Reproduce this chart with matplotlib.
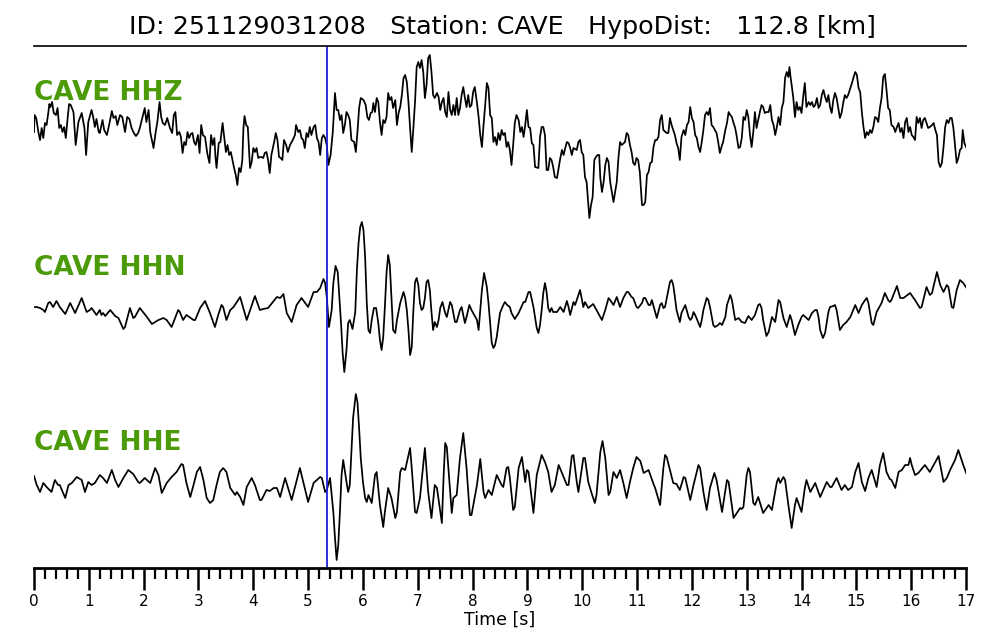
import numpy as np
import matplotlib
matplotlib.use("Agg")
import matplotlib.pyplot as plt
from matplotlib.ticker import MultipleLocator

event_id = "251129031208"
station = "CAVE"
hypo_dist = 112.8  # km
channels = ["HHZ", "HHN", "HHE"]
p_pick = 5.345  # s

# (time [s], amplitude)
hhz = [(0.00,-2),(0.01,15),(0.04,12),(0.08,-2),(0.11,-10),(0.14,2),(0.17,-8),(0.20,7),(0.23,5),(0.26,17),
       (0.28,26),(0.30,23),(0.33,28),(0.36,17),(0.40,15),(0.43,22),(0.46,2),(0.49,5),(0.52,-2),(0.55,3),
       (0.58,-8),(0.61,10),(0.64,26),(0.67,25),(0.72,18),(0.76,-15),(0.81,8),(0.87,17),(0.92,2),(0.95,-25),
       (0.99,8),(1.05,20),(1.08,13),(1.11,3),(1.14,11),(1.18,-2),(1.20,-3),(1.25,10),(1.28,0),(1.33,-5),
       (1.37,5),(1.42,19),(1.45,12),(1.49,14),(1.52,5),(1.57,15),(1.61,13),(1.66,-2),(1.70,13),(1.74,11),
       (1.78,2),(1.82,-3),(1.86,-6),(1.90,-3),(1.93,2),(1.98,13),(2.02,22),(2.05,8),(2.09,20),(2.12,-2),
       (2.15,-10),(2.18,-18),(2.22,-2),(2.25,8),(2.29,28),(2.32,13),(2.35,7),(2.39,5),(2.43,12),(2.48,2),
       (2.52,-3),(2.55,15),(2.58,18),(2.61,-5),(2.65,-2),(2.68,-7),(2.71,-23),(2.74,-12),(2.77,-15),(2.80,-2),
       (2.83,-8),(2.86,-4),(2.89,-3),(2.92,-12),(2.95,-15),(2.99,-5),(3.02,-23),(3.05,5),(3.08,-5),(3.12,-7),
       (3.16,-23),(3.20,-33),(3.23,-5),(3.26,-15),(3.29,-8),(3.31,-27),(3.33,-38),(3.37,-13),(3.40,-12),(3.44,7),
       (3.47,-8),(3.50,-22),(3.53,-15),(3.56,-25),(3.59,-22),(3.62,-30),(3.65,-38),(3.68,-45),(3.71,-55),(3.74,-38),
       (3.77,-42),(3.80,-30),(3.82,2),(3.84,14),(3.87,5),(3.90,3),(3.94,-38),(3.97,-32),(4.00,-18),(4.03,-22),
       (4.06,-18),(4.09,-28),(4.12,-27),(4.15,-27),(4.18,-28),(4.21,-23),(4.24,-22),(4.27,-30),(4.30,-43),(4.33,-25),
       (4.38,-12),(4.41,-3),(4.44,-10),(4.47,-27),
       (4.50,-28),(4.53,-30),(4.56,-10),(4.60,-15),(4.63,-22),(4.67,-15),(4.72,-10),(4.76,-5),(4.78,5),(4.82,-2),
       (4.85,0),(4.88,-8),(4.91,-10),(4.94,-18),(4.97,-3),(5.00,-7),(5.03,3),(5.06,-5),(5.10,3),(5.13,5),
       (5.16,-8),(5.19,-12),(5.22,-25),(5.25,-8),(5.28,-5),(5.31,-8),(5.34,-15),(5.37,-35),(5.41,-25),(5.45,-2),
       (5.49,37),(5.52,20),(5.55,20),(5.58,10),(5.61,15),(5.64,-3),(5.67,5),(5.70,18),(5.73,15),(5.76,10),
       (5.79,-10),(5.84,-12),(5.87,-22),(5.90,-2),(5.93,22),(5.96,32),(6.01,30),(6.05,25),(6.08,13),(6.11,10),
       (6.14,17),(6.17,18),(6.19,27),(6.22,18),(6.25,32),(6.28,28),(6.31,8),(6.34,-5),(6.37,10),(6.40,7),
       (6.43,13),(6.46,37),(6.49,30),(6.52,33),(6.55,22),(6.59,30),(6.62,5),(6.65,17),(6.68,23),(6.71,35),
       (6.74,52),(6.77,55),(6.80,48),(6.83,28),(6.86,2),(6.89,-22),(6.92,2),(6.95,28),(6.98,63),(7.01,68),
       (7.04,62),(7.07,70),(7.10,58),(7.13,32),(7.16,45),(7.19,72),(7.22,75),(7.25,58),(7.28,35),(7.31,32),
       (7.35,37),(7.38,33),(7.41,20),(7.44,28),(7.47,32),(7.50,18),(7.53,13),(7.56,38),(7.59,20),(7.62,15),
       (7.65,25),(7.68,15),(7.71,32),(7.74,15),(7.77,22),(7.80,35),(7.83,43),(7.86,32),(7.89,23),(7.92,35),
       (7.95,23),(7.98,25),(8.01,38),(8.04,43),(8.08,27),(8.11,13),(8.14,-5),(8.17,-17),(8.20,5),(8.23,25),
       (8.26,47),(8.29,42),(8.32,15),(8.35,12),(8.38,-12),(8.41,-7),(8.44,-15),(8.47,-3),(8.50,-10),(8.53,0),
       (8.56,-5),(8.59,-3),(8.62,-17),(8.65,-12),(8.68,-20),
       (8.71,-35),(8.74,-15),(8.77,7),(8.80,15),(8.84,10),(8.87,-2),(8.90,3),(8.93,-7),(8.96,5),(8.99,20),
       (9.02,3),(9.05,2),(9.08,-13),(9.11,-15),(9.14,-37),(9.20,-38),(9.23,-7),(9.26,3),(9.29,3),(9.32,-5),
       (9.35,-40),(9.38,-40),(9.41,-28),(9.44,-30),(9.47,-37),(9.50,-47),(9.54,-48),(9.57,-38),(9.60,-28),(9.63,-20),
       (9.66,-25),(9.69,-18),(9.72,-12),(9.75,-13),(9.78,-18),(9.81,-25),(9.84,-18),(9.90,-20),(9.93,-12),(9.96,-10),
       (9.99,-22),(10.02,-25),(10.05,-47),(10.08,-52),(10.11,-73),(10.13,-88),(10.16,-75),(10.19,-67),(10.22,-30),(10.25,-27),
       (10.28,-25),(10.31,-25),(10.33,-48),(10.36,-62),(10.39,-52),(10.42,-35),(10.45,-28),(10.48,-32),(10.51,-52),(10.54,-62),
       (10.57,-72),(10.60,-62),(10.63,-52),(10.66,-28),(10.69,-12),(10.72,-15),(10.78,-12),(10.81,-3),(10.84,-5),(10.87,-15),
       (10.90,-22),(10.93,-33),(10.96,-35),(10.99,-28),(11.02,-30),(11.05,-42),(11.09,-75),(11.12,-75),(11.15,-72),(11.18,-45),
       (11.21,-42),(11.24,-33),(11.27,-32),(11.30,-17),(11.33,-10),(11.36,-10),(11.39,-7),(11.42,10),(11.45,15),(11.48,0),
       (11.54,-3),(11.57,-3),(11.60,12),(11.63,5),(11.66,0),(11.69,-5),(11.72,-13),(11.75,-18),(11.78,-30),(11.81,-7),
       (11.85,0),(11.88,-5),(11.91,5),(11.94,8),(11.97,23),(12.00,12),(12.03,8),(12.06,-5),(12.09,-8),(12.12,-17),
       (12.15,-22),(12.18,-12),(12.21,0),(12.24,15),(12.27,18),(12.30,15),(12.33,22),(12.36,5),(12.39,3),(12.42,0),
       (12.45,-3),(12.48,-12),(12.51,-23),(12.55,-15),(12.57,-12),(12.61,0),(12.64,7),(12.67,18),(12.70,15),(12.73,13),
       (12.76,7),(12.79,2),(12.82,-7),(12.85,-18),(12.88,-17),
       (12.91,-8),(12.94,13),(12.97,10),(13.00,20),(13.03,13),(13.06,-5),(13.09,-17),(13.12,-2),(13.15,18),(13.18,2),
       (13.21,10),(13.24,18),(13.27,25),(13.30,23),(13.33,17),(13.36,18),(13.40,18),(13.43,25),(13.46,10),(13.49,5),
       (13.52,-5),(13.55,3),(13.58,13),(13.61,5),(13.64,22),(13.67,28),(13.70,52),(13.73,58),(13.76,53),(13.78,63),
       (13.80,53),(13.82,45),(13.85,32),(13.88,13),(13.91,28),(13.94,20),(13.97,23),(14.00,17),(14.03,33),(14.06,47),
       (14.09,23),(14.13,28),(14.16,25),(14.19,28),(14.22,23),(14.25,25),(14.28,32),(14.31,22),(14.34,25),(14.37,35),
       (14.40,40),(14.43,33),(14.46,28),(14.49,35),(14.52,23),(14.55,17),(14.58,30),(14.61,37),(14.64,32),(14.67,22),
       (14.70,12),(14.73,17),(14.76,27),(14.79,35),(14.82,32),(14.85,35),(14.89,42),(14.92,47),(14.95,53),(14.98,58),
       (15.01,55),(15.04,42),(15.07,38),(15.10,18),(15.13,3),(15.16,-8),(15.19,-2),(15.22,-5),(15.25,0),(15.28,-3),
       (15.31,3),(15.34,13),(15.37,12),(15.40,8),(15.43,22),(15.46,32),(15.49,53),(15.52,56),(15.55,40),(15.58,22),
       (15.61,20),(15.64,5),(15.68,3),(15.71,-2),(15.74,3),(15.77,7),(15.80,-2),(15.83,2),(15.86,-8),(15.89,8),
       (15.92,12),(15.95,-2),(15.98,3),(16.01,-5),(16.04,-7),(16.07,-10),(16.10,13),(16.13,7),(16.16,12),(16.19,2),
       (16.22,10),(16.25,12),(16.28,7),(16.31,2),(16.34,3),(16.38,5),(16.41,7),(16.44,0),(16.47,-5),(16.50,-32),
       (16.53,-37),(16.56,-33),(16.59,-17),(16.62,3),(16.65,10),(16.68,7),(16.71,12),(16.74,12),(16.77,2),(16.80,-15),
       (16.83,-33),(16.86,-28),(16.89,-20),(16.92,-18),(16.94,0),(16.97,-13),(17.01,-18)]

hhn = [(0.00,-2),(0.05,-2),(0.11,-3),(0.17,-5),(0.20,-7),(0.26,2),(0.29,3),(0.35,-2),(0.41,4),(0.47,-2),
       (0.57,-9),(0.66,2),(0.75,-8),(0.87,7),(0.96,-7),(1.02,-5),(1.05,-3),(1.14,-10),(1.20,-5),(1.23,-10),
       (1.26,-8),(1.30,-11),(1.39,-5),(1.48,-11),(1.54,-13),(1.63,-24),(1.66,-22),(1.75,-3),(1.81,-13),(1.84,-12),
       (1.93,-3),(2.06,-12),(2.15,-19),(2.24,-16),(2.27,-15),(2.36,-13),(2.42,-15),(2.51,-22),(2.63,-5),(2.66,-7),
       (2.72,-15),(2.78,-10),(2.91,-15),(2.94,-15),(3.03,-3),(3.12,4),(3.21,-8),(3.30,-22),(3.36,-10),(3.42,0),
       (3.45,-2),(3.51,-15),(3.58,-5),(3.64,-2),(3.76,8),(3.88,-15),(4.03,9),(4.12,-5),(4.18,-4),(4.27,-3),
       (4.43,8),
       (4.49,7),(4.55,11),(4.61,-8),(4.70,-17),(4.79,0),(4.88,7),(5.00,-2),(5.10,13),(5.16,13),(5.19,15),
       (5.22,17),(5.28,26),(5.31,22),(5.34,8),(5.38,-22),(5.43,-5),(5.46,22),(5.50,39),(5.54,33),(5.57,8),
       (5.60,-18),(5.63,-48),(5.66,-67),(5.70,-45),(5.73,-18),(5.76,-15),(5.81,-24),(5.86,-7),(5.89,35),(5.92,62),
       (5.95,78),(5.98,83),(6.01,75),(6.04,48),(6.07,2),(6.10,-25),(6.13,-28),(6.16,-15),(6.20,-3),(6.24,-3),
       (6.28,-18),(6.31,-35),(6.34,-45),(6.37,-32),(6.40,-2),(6.43,32),(6.46,50),(6.49,40),(6.52,8),(6.55,-25),
       (6.59,-28),(6.62,-15),(6.68,2),(6.74,13),(6.77,7),(6.80,-5),(6.83,-25),(6.86,-50),(6.89,-42),(6.92,-5),
       (6.95,23),(6.98,27),(7.01,20),(7.04,2),(7.07,-5),(7.10,-3),(7.13,7),(7.16,23),(7.19,25),(7.22,15),
       (7.25,-7),(7.28,-25),(7.31,-17),(7.35,-22),(7.38,-15),(7.41,-3),(7.45,3),(7.50,-8),(7.53,-12),(7.59,3),
       (7.62,0),(7.68,-17),(7.71,-17),(7.77,-5),(7.80,-2),(7.86,-18),(7.89,-12),(7.94,0),(7.98,-5),(8.08,-15),
       (8.11,-25),(8.14,-5),(8.17,15),(8.21,32),(8.26,18),(8.29,2),(8.32,-18),(8.35,-38),(8.38,-43),(8.41,-40),
       (8.44,-32),(8.50,-8),(8.56,0),(8.59,3),(8.63,0),(8.68,-2),
       (8.71,-8),(8.77,-14),(8.84,-8),(8.93,3),(8.96,3),(9.02,13),(9.05,13),(9.11,-2),(9.17,-23),(9.20,-28),
       (9.23,-20),(9.26,-5),(9.29,12),(9.32,22),(9.35,13),(9.38,-3),(9.41,-7),(9.44,-3),(9.47,-7),(9.54,-7),
       (9.60,-2),(9.66,-7),(9.72,4),(9.75,-2),(9.78,-10),(9.84,3),(9.87,0),(9.96,15),(10.02,-2),(10.05,3),
       (10.11,-3),(10.20,1),(10.26,-5),(10.36,-15),(10.42,-5),(10.48,7),(10.51,5),(10.57,0),(10.63,8),(10.69,-2),
       (10.75,7),(10.81,13),(10.84,13),(10.90,8),(10.93,7),(10.99,-2),(11.02,-3),(11.09,2),(11.12,7),(11.15,7),
       (11.21,0),(11.24,0),(11.27,5),(11.36,-13),(11.42,0),(11.45,2),(11.48,-3),(11.51,-2),(11.57,15),(11.60,23),
       (11.63,25),(11.66,20),(11.69,8),(11.72,-5),(11.78,-17),(11.81,-8),(11.88,0),(11.94,-12),(11.97,-15),(12.00,-13),
       (12.03,-7),(12.06,-10),(12.15,-22),(12.18,-15),(12.21,-5),(12.27,7),(12.30,5),(12.33,-2),(12.39,-20),(12.42,-22),
       (12.48,-20),(12.51,-18),(12.55,-20),(12.61,-12),(12.64,0),(12.70,10),(12.73,5),(12.76,-5),(12.79,-15),(12.85,-13),
       (12.88,-15),
       (12.91,-17),(12.97,-18),(13.03,-11),(13.09,-15),(13.15,-10),(13.21,0),(13.24,1),(13.27,-3),(13.30,-15),(13.36,-31),
       (13.40,-27),(13.46,-12),(13.52,-17),(13.58,5),(13.61,3),(13.67,-13),(13.73,-22),(13.79,-10),(13.82,-15),(13.88,-30),
       (13.94,-20),(14.00,-12),(14.03,-10),(14.13,-15),(14.19,-8),(14.25,-5),(14.28,-5),(14.31,-12),(14.34,-25),(14.39,-33),
       (14.43,-28),(14.49,-7),(14.52,-2),(14.58,-1),(14.61,0),(14.64,-5),(14.70,-25),(14.76,-20),(14.82,-17),(14.89,-12),
       (14.98,0),(15.04,-8),(15.10,0),(15.16,5),(15.19,7),(15.22,2),(15.28,-18),(15.31,-20),(15.37,-7),(15.46,2),
       (15.52,12),(15.58,5),(15.61,3),(15.64,5),(15.74,19),(15.80,7),(15.86,7),(15.98,12),(16.07,5),(16.16,-3),
       (16.19,-2),(16.28,18),(16.34,10),(16.38,12),(16.47,33),(16.53,20),(16.59,13),(16.65,20),(16.68,18),(16.74,-2),
       (16.77,-3),(16.83,15),(16.89,25),(16.95,22),(17.01,17)]

hhe = [(0.00,4),(0.05,-5),(0.11,-12),(0.17,-3),(0.23,-7),(0.32,-12),(0.38,0),(0.44,-5),(0.47,-5),(0.57,-18),
       (0.63,-5),(0.69,-3),(0.78,3),(0.87,0),(0.93,-12),(0.99,-2),(1.05,-5),(1.11,-3),(1.20,5),(1.26,2),
       (1.33,-3),(1.42,10),(1.48,0),(1.54,-7),(1.63,2),(1.72,10),(1.81,6),(1.90,-2),(1.93,-3),(2.02,2),
       (2.12,-3),(2.21,12),(2.27,5),(2.33,-13),(2.42,-3),(2.51,3),(2.60,8),(2.69,16),(2.72,15),(2.78,-3),
       (2.85,-17),(2.91,-5),(2.97,8),(3.03,13),(3.09,0),(3.15,-18),(3.21,-23),(3.27,-20),(3.33,-5),(3.39,8),
       (3.45,12),(3.51,8),(3.58,-8),(3.67,-15),(3.70,-12),(3.76,-17),(3.82,-25),(3.88,-7),(3.97,2),(4.03,-5),
       (4.12,-20),(4.15,-20),(4.24,-10),(4.30,-11),(4.37,-8),(4.43,-8),
       (4.49,-17),(4.58,2),(4.70,-20),(4.85,12),(5.00,-22),(5.10,-3),(5.22,3),(5.25,2),(5.31,-12),(5.34,-10),
       (5.40,2),(5.46,-32),(5.49,-58),(5.52,-80),(5.55,-65),(5.58,-32),(5.61,5),(5.64,20),(5.70,-2),(5.73,-12),
       (5.76,-5),(5.79,28),(5.82,62),(5.86,82),(5.87,86),(5.90,78),(5.93,52),(5.96,22),(6.00,-2),(6.04,-18),
       (6.07,-22),(6.10,-15),(6.16,-23),(6.22,5),(6.25,8),(6.31,-25),(6.37,-47),(6.40,-32),(6.46,-8),(6.52,-18),
       (6.59,-38),(6.62,-32),(6.68,8),(6.71,12),(6.77,10),(6.86,32),(6.89,12),(6.95,-32),(6.98,-33),(7.04,-18),
       (7.13,32),(7.19,-12),(7.25,-38),(7.31,-5),(7.35,-8),(7.44,-43),(7.47,2),(7.50,37),(7.53,33),(7.62,-33),
       (7.65,-18),(7.71,-15),(7.77,22),(7.83,47),(7.89,12),(7.95,-35),(7.98,-35),(8.08,-5),(8.14,21),(8.20,-12),
       (8.23,-18),(8.29,-10),(8.35,-15),(8.44,5),(8.53,-5),(8.56,-7),
       (8.62,12),(8.65,13),(8.68,2),(8.74,-30),(8.77,-27),(8.84,12),(8.90,23),(8.96,-2),(8.99,10),(9.02,8),
       (9.11,-33),(9.17,5),(9.26,25),(9.32,18),(9.38,8),(9.44,-12),(9.50,-5),(9.57,15),(9.63,7),(9.72,-5),
       (9.75,-5),(9.81,24),(9.84,25),(9.90,-2),(9.93,-12),(10.02,22),(10.05,22),(10.11,-2),(10.17,-13),(10.23,-23),
       (10.26,-15),(10.33,28),(10.37,39),(10.42,22),(10.48,-15),(10.51,-12),(10.57,8),(10.63,2),(10.69,10),(10.75,-3),
       (10.81,-18),(10.87,-2),(10.93,12),(10.99,23),(11.06,19),(11.12,7),(11.21,10),(11.30,-4),(11.33,-8),(11.42,-25),
       (11.48,12),(11.51,25),(11.54,23),(11.60,10),(11.66,-3),(11.72,-4),(11.78,-10),(11.85,3),(11.88,2),(11.97,-20),
       (12.03,-5),(12.12,15),(12.15,12),(12.21,-12),(12.27,-30),(12.33,-8),(12.41,7),(12.45,0),(12.55,-32),(12.57,-25),
       (12.64,0),(12.67,-2),(12.76,-38),(12.82,-33),(12.88,-28),
       (12.91,-29),(12.94,-27),(13.00,5),(13.03,12),(13.06,8),(13.12,-23),(13.15,-25),(13.21,-17),(13.30,-33),(13.40,-25),
       (13.46,-30),(13.55,-2),(13.58,2),(13.61,-3),(13.67,3),(13.70,0),(13.76,-25),(13.82,-48),(13.88,-25),(13.91,-18),
       (14.00,-32),(14.06,-8),(14.09,0),(14.16,-12),(14.25,-3),(14.34,-17),(14.46,-2),(14.52,-7),(14.55,-7),(14.64,2),
       (14.73,-10),(14.79,-5),(14.85,-10),(14.92,-7),(14.98,8),(15.04,17),(15.10,-2),(15.16,-11),(15.22,2),(15.28,10),
       (15.37,-7),(15.43,15),(15.49,27),(15.55,8),(15.61,1),(15.64,0),(15.71,-8),(15.77,8),(15.83,10),(15.89,15),
       (15.95,15),(15.98,22),(16.01,15),(16.07,5),(16.13,7),(16.25,15),(16.34,8),(16.44,18),(16.50,24),(16.59,-2),
       (16.65,2),(16.71,10),(16.80,20),(16.86,30),(16.95,15),(17.01,6)]

traces = [hhz, hhn, hhe]
spacing = 175

fig = plt.figure(figsize=(10, 6.4), dpi=100)
ax = fig.add_axes([0.034, 0.1125, 0.932, 0.8156])

for i, (ch, pts) in enumerate(zip(channels, traces)):
    t, a = np.array(pts, dtype=float).T
    off = -i * spacing
    ax.plot(t, a + off, color="black", lw=1.25, solid_joinstyle="round")
    ax.text(0, off + 30, f"{station} {ch}", color="#4b9a08", fontsize=19,
            fontweight="bold", ha="left", va="baseline")

ax.axvline(p_pick, color="#1f1fd2", lw=1.3)

ax.set_xlim(0, 17)
ax.set_ylim(-438, 84)
ax.set_yticks([])
for s in ["left", "right"]:
    ax.spines[s].set_visible(False)
ax.spines["top"].set_linewidth(1.2)
ax.spines["bottom"].set_linewidth(2)

ax.xaxis.set_major_locator(MultipleLocator(1))
ax.xaxis.set_minor_locator(MultipleLocator(0.2))
ax.tick_params(axis="x", which="major", direction="out", length=16, width=1.8, labelsize=11, pad=3)
ax.tick_params(axis="x", which="minor", direction="out", length=8, width=1.6)
ax.set_xlabel("Time [s]", fontsize=12.5, labelpad=1)

fig.text(0.502, 1 - 27 / 640,
         f"ID: {event_id}   Station: {station}   HypoDist:   {hypo_dist:.1f} [km]",
         ha="center", va="center", fontsize=18.3)

fig.savefig("out.png", dpi=100)
